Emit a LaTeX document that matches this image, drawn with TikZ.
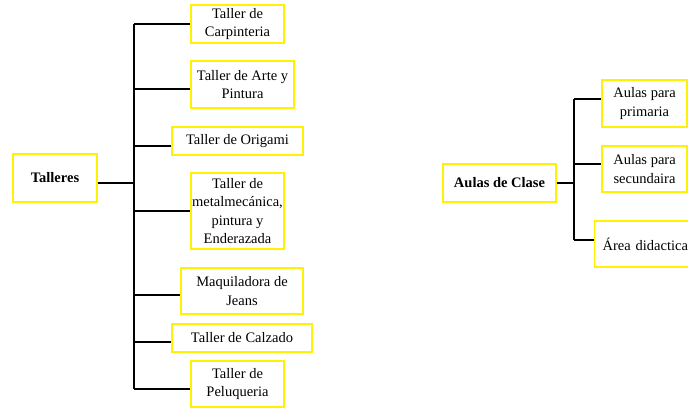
\documentclass[tikz,border=0pt]{standalone}
\usepackage{fontspec}
\setmainfont{Liberation Serif}
\begin{document}
\begin{tikzpicture}[x=1pt,y=-1pt,
  box/.style={draw=yellow, line width=1.3pt, align=center, inner sep=0pt,
    font=\fontsize{14.5}{18.5}\selectfont},
  conn/.style={draw=black, line width=1.1pt}]
\useasboundingbox (0,0) rectangle (688,408);
% left tree
\node[box, minimum width=84pt, minimum height=48pt] (tall) at (55,178) {\textbf{Talleres}};
\node[box, minimum width=93pt, minimum height=38pt] (c1) at (237.5,24) {Taller de\\Carpinteria};
\node[box, minimum width=103pt, minimum height=47pt] (c2) at (242.5,84.5) {Taller de Arte y\\Pintura};
\node[box, minimum width=131pt, minimum height=28pt] (c3) at (237.5,141) {Taller de Origami};
\node[box, minimum width=93pt, minimum height=76pt] (c4) at (237.5,211) {Taller de\\metalmecánica,\\pintura y\\Enderazada};
\node[box, minimum width=122pt, minimum height=46pt] (c5) at (242,291) {Maquiladora de\\Jeans};
\node[box, minimum width=140pt, minimum height=28pt] (c6) at (242,338) {Taller de Calzado};
\node[box, minimum width=93pt, minimum height=46pt] (c7) at (237.5,384) {Taller de\\Peluqueria};
\coordinate (tj) at (134,183);
\coordinate (t1) at (134,24);
\coordinate (t2) at (134,89);
\coordinate (t3) at (134,146);
\coordinate (t4) at (134,211);
\coordinate (t5) at (134,295);
\coordinate (t6) at (134,342);
\coordinate (t7) at (134,389);
\draw[conn] (tj -| tall.east) -- (tj);
\draw[conn] (t1) -- (t7);
\draw[conn] (t1) -- (t1 -| c1.west);
\draw[conn] (t2) -- (t2 -| c2.west);
\draw[conn] (t3) -- (t3 -| c3.west);
\draw[conn] (t4) -- (t4 -| c4.west);
\draw[conn] (t5) -- (t5 -| c5.west);
\draw[conn] (t6) -- (t6 -| c6.west);
\draw[conn] (t7) -- (t7 -| c7.west);
% right tree
\node[box, minimum width=113pt, minimum height=38pt] (aul) at (499.5,183) {\textbf{Aulas de Clase}};
\node[box, minimum width=85pt, minimum height=47pt] (a1) at (644.5,103.5) {Aulas para\\primaria};
\node[box, minimum width=85pt, minimum height=46pt] (a2) at (644.5,169) {Aulas para\\secundaira};
\node[box, anchor=west, minimum height=46pt, text width=92pt, align=left, inner xsep=8.5pt] (a3) at (593.5,244) {Área didactica};
\coordinate (aj) at (574,183);
\coordinate (s1) at (574,99);
\coordinate (s2) at (574,164);
\coordinate (s3) at (574,240);
\draw[conn] (aj -| aul.east) -- (aj);
\draw[conn] (s1) -- (s3);
\draw[conn] (s1) -- (s1 -| a1.west);
\draw[conn] (s2) -- (s2 -| a2.west);
\draw[conn] (s3) -- (s3 -| a3.west);
\end{tikzpicture}
\end{document}
